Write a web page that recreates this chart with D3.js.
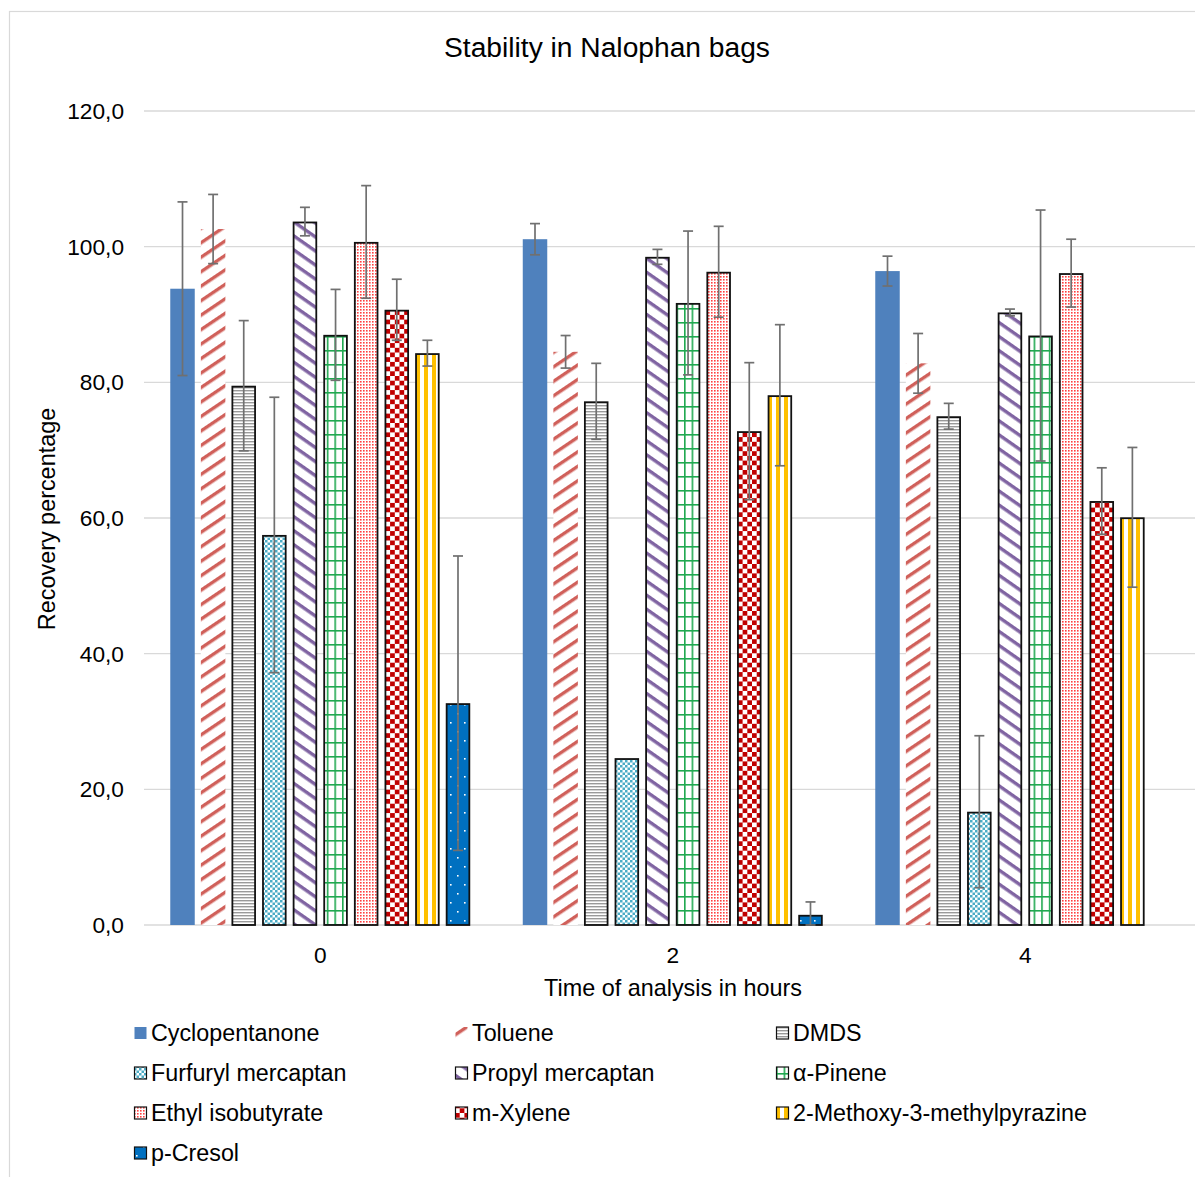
<!DOCTYPE html>
<html><head><meta charset="utf-8">
<script src="https://cdn.jsdelivr.net/npm/d3@7"></script>
<style>body{margin:0;background:#fff}svg{display:block}text{font-family:"Liberation Sans",Arial,sans-serif;fill:#000}</style>
</head><body>
<svg id="c" width="1195" height="1177"></svg>
<script>
const times = ["0", "2", "4"];
const series = ["Cyclopentanone","Toluene","DMDS","Furfuryl mercaptan","Propyl mercaptan","α-Pinene","Ethyl isobutyrate","m-Xylene","2-Methoxy-3-methylpyrazine","p-Cresol"];
// values per series at t = 0, 2, 4 h
const cyclopentanone = [93.8, 101.1, 96.4];
const toluene        = [102.6, 84.5, 82.8];
const dmds           = [79.5, 77.2, 75.0];
const furfuryl       = [57.5, 24.6, 16.7];
const propyl         = [103.7, 98.5, 90.3];
const pinene         = [87.0, 91.7, 86.9];
const ethylIso       = [100.7, 96.3, 96.1];
const mXylene        = [90.7, 72.8, 62.5];
const methoxy        = [84.3, 78.1, 60.1];
const pCresol        = [32.7, 1.5, null];
// error (±) per series
const errCyclopentanone = [12.8, 2.3, 2.2];
const errToluene        = [5.1, 2.4, 4.4];
const errDmds           = [9.6, 5.6, 1.9];
const errFurfuryl       = [20.3, 0, 11.2];
const errPropyl         = [2.1, 1.1, 0.5];
const errPinene         = [6.7, 10.6, 18.5];
const errEthylIso       = [8.3, 6.7, 5.0];
const errMXylene        = [4.5, 10.1, 4.9];
const errMethoxy        = [1.9, 10.4, 10.3];
const errPCresol        = [21.7, 1.9, null];
const yTicks = [0, 20, 40, 60, 80, 100, 120];

const values = [cyclopentanone,toluene,dmds,furfuryl,propyl,pinene,ethylIso,mXylene,methoxy,pCresol];
const errors = [errCyclopentanone,errToluene,errDmds,errFurfuryl,errPropyl,errPinene,errEthylIso,errMXylene,errMethoxy,errPCresol];

const svg = d3.select("#c");
const defs = svg.append("defs");

function pat(id, w, h, transform) {
  const p = defs.append("pattern").attr("id", id).attr("patternUnits","userSpaceOnUse")
    .attr("width", w).attr("height", h);
  if (transform) p.attr("patternTransform", transform);
  p.append("rect").attr("width", w).attr("height", h).attr("fill", "#fff");
  return p;
}
let p;
p = pat("p1", 10, 12, "rotate(-34)"); p.append("rect").attr("width",10).attr("height",3.4).attr("fill","#d0605a");
p = pat("p2", 4, 3); p.append("rect").attr("y",0).attr("width",4).attr("height",1.4).attr("fill","#9a9a9a");
p = pat("p3", 5, 5); p.append("rect").attr("width",2.5).attr("height",2.5).attr("fill","#4bacc6");
  p.append("rect").attr("x",2.5).attr("y",2.5).attr("width",2.5).attr("height",2.5).attr("fill","#4bacc6");
p = pat("p4", 10, 11.5, "rotate(35)"); p.append("rect").attr("width",10).attr("height",3.4).attr("fill","#8064a2");
p = pat("p5", 7.6, 14); p.append("rect").attr("x",0).attr("width",1.6).attr("height",14).attr("fill","#20a850");
  p.append("rect").attr("y",0).attr("width",7.6).attr("height",1.6).attr("fill","#20a850");
p = pat("p6", 3, 3); p.append("rect").attr("width",1.6).attr("height",1.6).attr("fill","#ff4040");
p = pat("p7", 9.4, 9.4); p.append("rect").attr("width",4.7).attr("height",4.7).attr("fill","#c00000");
  p.append("rect").attr("x",4.7).attr("y",4.7).attr("width",4.7).attr("height",4.7).attr("fill","#c00000");
p = pat("p8", 8, 8); p.append("rect").attr("width",4).attr("height",8).attr("fill","#ffc000");
p = defs.append("pattern").attr("id","p9").attr("patternUnits","userSpaceOnUse").attr("width",14).attr("height",18);
  p.append("rect").attr("width",14).attr("height",18).attr("fill","#0070c0");
  p.append("rect").attr("x",2).attr("y",2).attr("width",1.6).attr("height",1.6).attr("fill","#fff");
  p.append("rect").attr("x",9).attr("y",11).attr("width",1.6).attr("height",1.6).attr("fill","#fff");

const fills = ["#4f81bd","url(#p1)","url(#p2)","url(#p3)","url(#p4)","url(#p5)","url(#p6)","url(#p7)","url(#p8)","url(#p9)"];
const bordered = [false,false,true,true,true,true,true,true,true,true];

svg.append("rect").attr("width",1195).attr("height",1177).attr("fill","#fff");
svg.append("rect").attr("x",9.5).attr("y",11.5).attr("width",1200).attr("height",1200)
  .attr("fill","none").attr("stroke","#d9d9d9").attr("stroke-width",1.2);

const x0 = d3.scaleBand().domain(times).range([144, 1201.5]).paddingInner(0.149).paddingOuter(0.0745);
const x1 = d3.scaleBand().domain(series).range([0, x0.bandwidth()]).paddingInner(0.2).paddingOuter(0);
const y = d3.scaleLinear().domain([0, 120]).range([925, 111]);

svg.append("g").selectAll("line").data(yTicks).join("line")
  .attr("x1",144).attr("x2",1201).attr("y1",d=>y(d)).attr("y2",d=>y(d))
  .attr("stroke","#d9d9d9").attr("stroke-width",1.3);

const fmt = d => d3.format(".1f")(d).replace(".", ",");
svg.append("g").selectAll("text").data(yTicks).join("text")
  .attr("x",124).attr("y",d=>y(d)).attr("dy","0.35em").attr("text-anchor","end")
  .attr("font-size",22.7).text(fmt);

svg.append("g").selectAll("text").data(times).join("text")
  .attr("x",d=>x0(d)+x0.bandwidth()/2).attr("y",955).attr("dy","0.35em").attr("text-anchor","middle")
  .attr("font-size",22.7).text(d=>d);

const bars = [];
series.forEach((s, si) => times.forEach((t, ti) => {
  const v = values[si][ti];
  if (v != null) bars.push({s, si, t, v, e: errors[si][ti]});
}));
const bw = x1.bandwidth();
svg.append("g").selectAll("rect").data(bars).join("rect")
  .attr("x", d => x0(d.t) + x1(d.s) + (bordered[d.si] ? 0.9 : 0))
  .attr("y", d => y(d.v) + (bordered[d.si] ? 0.9 : 0))
  .attr("width", d => bw - (bordered[d.si] ? 1.8 : 0))
  .attr("height", d => y(0) - y(d.v) - (bordered[d.si] ? 0.9 : 0))
  .attr("fill", d => fills[d.si])
  .attr("stroke", d => bordered[d.si] ? "#111" : "none")
  .attr("stroke-width", 1.8);

const eb = svg.append("g").attr("stroke","#707070").attr("stroke-width",1.7);
bars.filter(d => d.e).forEach(d => {
  const cx = x0(d.t) + x1(d.s) + bw/2;
  const yt = y(d.v + d.e), yb = y(Math.max(0, d.v - d.e));
  eb.append("line").attr("x1",cx).attr("x2",cx).attr("y1",yt).attr("y2",yb);
  eb.append("line").attr("x1",cx-5).attr("x2",cx+5).attr("y1",yt).attr("y2",yt);
  eb.append("line").attr("x1",cx-5).attr("x2",cx+5).attr("y1",yb).attr("y2",yb);
});

svg.append("text").attr("x",607).attr("y",47).attr("dy","0.35em").attr("text-anchor","middle")
  .attr("font-size",28.2).text("Stability in Nalophan bags");
svg.append("text").attr("x",673).attr("y",988).attr("dy","0.35em").attr("text-anchor","middle")
  .attr("font-size",23.4).text("Time of analysis in hours");
svg.append("text").attr("transform","translate(47,519) rotate(-90)").attr("dy","0.35em")
  .attr("text-anchor","middle").attr("font-size",23.4).text("Recovery percentage");

const colX = [134, 455, 776];
const lg = svg.append("g").selectAll("g").data(series).join("g")
  .attr("transform",(d,i)=>`translate(${colX[i%3]},${1033 + Math.floor(i/3)*40})`);
lg.append("rect").attr("x",0.5).attr("y",-6).attr("width",12).attr("height",12)
  .attr("fill",(d,i)=>fills[i]).attr("stroke",(d,i)=>bordered[i]?"#111":"none").attr("stroke-width",1.2);
lg.append("text").attr("x",17).attr("y",0).attr("dy","0.35em").attr("font-size",23.3).text(d=>d);
</script>
</body></html>
